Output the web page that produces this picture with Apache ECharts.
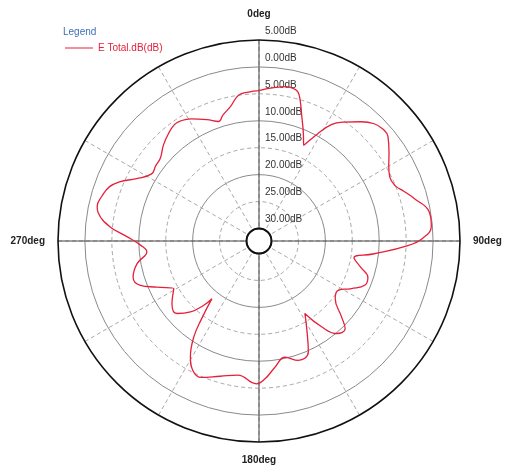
<!DOCTYPE html>
<html>
<head>
<meta charset="utf-8">
<script src="https://cdn.jsdelivr.net/npm/echarts@6/dist/echarts.min.js"></script>
<style>
html,body{margin:0;padding:0;background:#fff;}
#chart{width:506px;height:471px;}
</style>
</head>
<body>
<div id="chart"></div>
<script>
// Angles in degrees (0deg at top, clockwise)
const angles = [0,5,10,12.7,14.6,16.2,19,22.4,25,28.5,32,35.5,40.5,44.5,48,51,56,60,64,68,71,75,80,85,89,92,96.5,100,104.5,108.5,112.5,117.2,121.9,127,132.6,135.5,140,143.9,147.7,151,156,161.8,167.4,172.8,177.5,181,189,196,203,207,210.6,214.2,216.5,219.2,220.7,224,228.5,234.2,240.8,245.7,249.5,254,259.5,264.5,268,272,275.5,280,282,286,290,293,297,302,306,310,315,319.6,324,327,331,336.7,341.3,344,348,352,356,360];
// E Total dB values
const eTotal = [-4.4,-3.8,-3.2,-3.3,-3.7,-5.0,-7.9,-10.7,-12.7,-9.8,-6.8,-5.2,-3.2,-1.8,-1.3,-1.5,-3.2,-4.5,-5.3,-5.0,-3.9,-2.3,-0.3,-0.2,-1.9,-5.0,-11.0,-14.4,-12.8,-11.0,-11.0,-13.0,-15.0,-14.6,-11.5,-9.5,-9.9,-12.6,-16.4,-14.1,-9.8,-9.0,-10.2,-8.7,-6.7,-5.8,-7.1,-6.2,-4.8,-5.3,-7.3,-10.8,-14.5,-18.5,-16.6,-14.0,-12.0,-12.4,-14.2,-11.5,-8.8,-8.0,-9.3,-11.4,-10.3,-7.7,-4.5,-2.0,-1.6,-2.0,-2.8,-4.2,-6.8,-8.8,-8.6,-8.4,-7.2,-6.3,-5.6,-5.7,-6.4,-7.8,-8.9,-8.0,-6.8,-5.0,-4.6,-4.4];
const seriesName = 'E Total.dB(dB)';
const radiusMin = -30, radiusMax = 5, radiusStep = 5;
const angleTickStep = 90, angleGridStep = 30;

const T = 'rgba(0,0,0,0)';
const FONT = '"Liberation Sans", Arial, sans-serif';
const CENTER = [259, 241];
const RADIUS = [12.5, 201];

const chart = echarts.init(document.getElementById('chart'), null, {renderer: 'canvas'});
const data = angles.map((a, i) => [eTotal[i], a]);

function polar() { return {center: CENTER, radius: RADIUS}; }
function angleBase(extra) {
  return Object.assign({
    type: 'value', min: 0, max: 360, startAngle: 90, clockwise: true,
    axisTick: {show: false}, axisLabel: {show: false}, axisLine: {show: false},
    splitLine: {show: false}
  }, extra);
}
function radiusBase(extra) {
  return Object.assign({
    type: 'value', min: radiusMin, max: radiusMax, interval: radiusStep,
    axisTick: {show: false}, axisLabel: {show: false}, axisLine: {show: false},
    splitLine: {show: false}
  }, extra);
}

chart.setOption({
  animation: false,
  backgroundColor: '#fff',
  title: {
    text: 'Legend', left: 58, top: 22,
    textStyle: {color: '#3b6fb6', fontSize: 10, fontWeight: 'normal', fontFamily: FONT}
  },
  legend: {
    left: 60, top: 38, itemWidth: 28, itemHeight: 1, icon: 'rect',
    itemStyle: {color: '#e5203a'},
    textStyle: {color: '#e5203a', fontSize: 10, fontFamily: FONT},
    data: [seriesName]
  },
  polar: [polar(), polar(), polar()],
  angleAxis: [
    angleBase({polarIndex: 0, interval: angleGridStep,
      splitLine: {show: true, lineStyle: {color: '#a8a8a8', width: 1, type: [4, 3]}}}),
    angleBase({polarIndex: 1, interval: angleTickStep,
      splitLine: {show: true, lineStyle: {color: '#444', width: 1}},
      axisLabel: {show: true, margin: 13, color: '#222', fontSize: 10, fontFamily: FONT, fontWeight: 'bold',
        formatter: v => v === 360 ? '' : (v === 0 ? '{t|' + v + 'deg}' : v + 'deg'),
        rich: {t: {padding: [0, 0, 8, 0], fontSize: 10, fontFamily: FONT, fontWeight: 'bold', color: '#222'}}}}),
    angleBase({polarIndex: 2, interval: angleTickStep,
      axisLine: {show: true, lineStyle: {color: '#111', width: 1.6}}})
  ],
  radiusAxis: [
    radiusBase({polarIndex: 0,
      splitLine: {show: true, lineStyle: {color: [T, '#a8a8a8', T, '#a8a8a8', T, '#a8a8a8', T, T], width: 1, type: [4, 3]}},
      axisLabel: {show: true, margin: -6, align: 'left', verticalAlign: 'bottom', padding: [0, 0, 4, 0],
        color: '#333', fontSize: 10, fontFamily: FONT,
        formatter: v => Math.abs(v).toFixed(2) + 'dB'}}),
    radiusBase({polarIndex: 1,
      splitLine: {show: true, lineStyle: {color: [T, T, '#8a8a8a', T, '#8a8a8a', T, '#8a8a8a', T], width: 1}}}),
    radiusBase({polarIndex: 2,
      splitLine: {show: true, lineStyle: {color: ['#111', T, T, T, T, T, T, T], width: 1.8}}})
  ],
  series: [{
    name: seriesName, type: 'line', coordinateSystem: 'polar', polarIndex: 0,
    data: data, showSymbol: false, smooth: 0.45, z: 10,
    lineStyle: {color: '#e5203a', width: 1.3},
    itemStyle: {color: '#e5203a'}
  }]
});
</script>
</body>
</html>
